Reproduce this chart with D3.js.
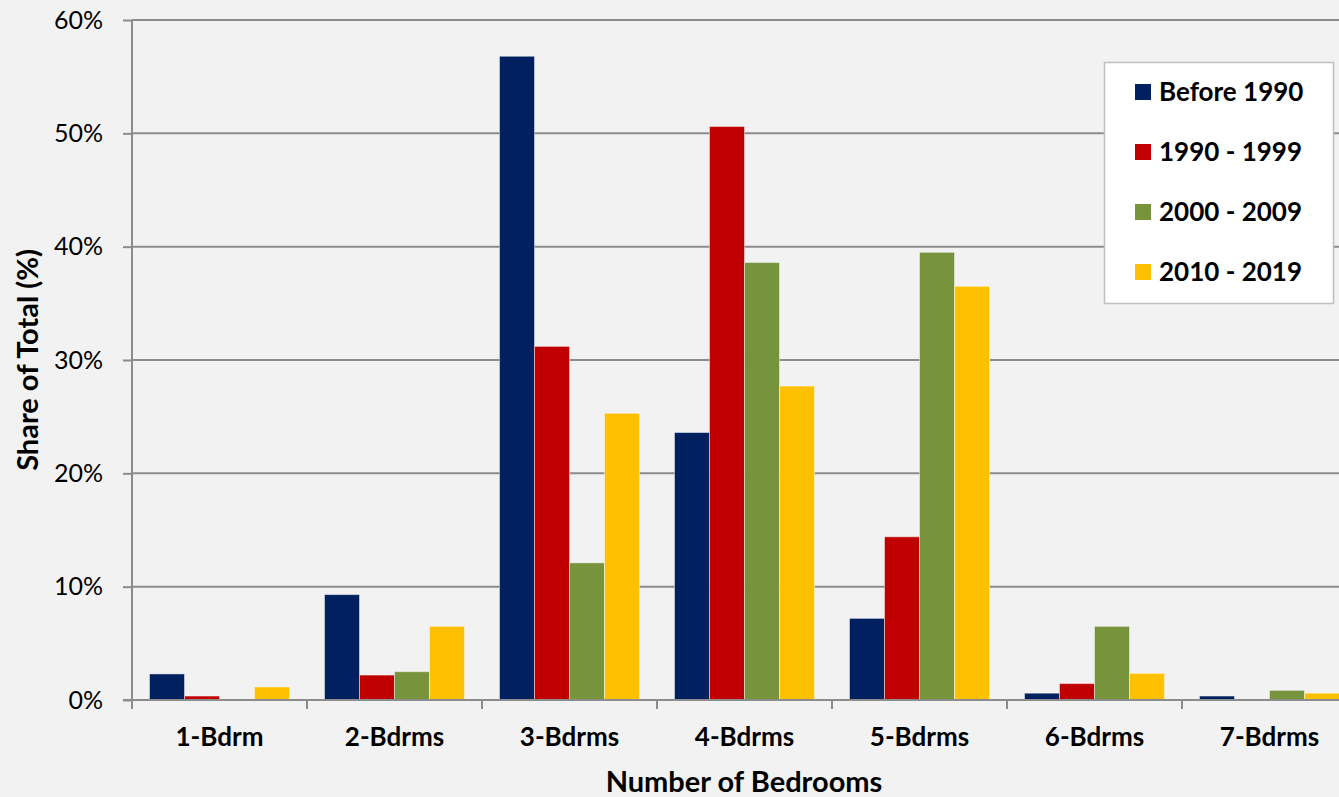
<!DOCTYPE html>
<html><head><meta charset="utf-8">
<script src="https://cdn.jsdelivr.net/npm/d3@7"></script>
<style>
html,body{margin:0;padding:0;background:#f2f2f2;overflow:hidden;}
svg{display:block;font-family:Lato,"Open Sans",sans-serif;}
</style></head>
<body><svg id="c" width="1339" height="797"></svg>
<script>
const categories = ["1-Bdrm","2-Bdrms","3-Bdrms","4-Bdrms","5-Bdrms","6-Bdrms","7-Bdrms"];
const seriesNames = ["Before 1990","1990 - 1999","2000 - 2009","2010 - 2019"];
const before1990 = [2.3, 9.3, 56.8, 23.6, 7.2, 0.6, 0.35];
const s1990_1999 = [0.35, 2.2, 31.2, 50.6, 14.4, 1.45, 0];
const s2000_2009 = [0, 2.5, 12.1, 38.6, 39.5, 6.5, 0.85];
const s2010_2019 = [1.15, 6.5, 25.3, 27.7, 36.5, 2.35, 0.6];
const colors = ["#002060","#C00000","#77933C","#FFC000"];
const yTicks = [0,10,20,30,40,50,60];

(function(){
const seriesValues = [before1990, s1990_1999, s2000_2009, s2010_2019];
const svg = d3.select("#c");
const pLeft = 132, pTop = 20, pBottom = 700, bandW = 175;
const pRight = pLeft + bandW * categories.length;

const x = d3.scaleBand().domain(categories).range([pLeft, pRight]).padding(0);
const xs = d3.scaleBand().domain(seriesNames).range([17.5, bandW - 17.5]).padding(0);
const y = d3.scaleLinear().domain([0, 60]).range([pBottom, pTop]);

// gridlines
svg.append("g").selectAll("line").data(yTicks.filter(d=>d>0)).join("line")
  .attr("x1", pLeft).attr("x2", pRight).attr("y1", d=>y(d)).attr("y2", d=>y(d))
  .attr("stroke", "#8c8c8c").attr("stroke-width", 2);

// bars
const g = svg.append("g");
seriesNames.forEach((s, si) => {
  g.append("g").selectAll("rect").data(categories.map((c,i)=>({c, v: seriesValues[si][i]})).filter(d=>d.v>0)).join("rect")
    .attr("x", d => x(d.c) + xs(s))
    .attr("width", xs.bandwidth())
    .attr("y", d => y(d.v))
    .attr("height", d => pBottom - y(d.v))
    .attr("fill", colors[si])
    .attr("stroke", "rgba(255,255,255,0.45)").attr("stroke-width", 1);
});

// y axis
const yAxis = svg.append("g").attr("transform", `translate(${pLeft},0)`)
  .call(d3.axisLeft(y).tickValues(yTicks).tickFormat(d=>d+"%").tickSize(9).tickPadding(20));
yAxis.select(".domain").attr("stroke", "#8c8c8c").attr("stroke-width", 2).attr("d", `M0,${pTop}V${pBottom}`);
yAxis.selectAll(".tick line").attr("stroke", "#8c8c8c").attr("stroke-width", 2);
yAxis.selectAll(".tick text").attr("font-size", 25).attr("fill", "#000").attr("font-family", "Lato,'Open Sans',sans-serif");

// x axis
const xAxis = svg.append("g").attr("transform", `translate(0,${pBottom})`)
  .call(d3.axisBottom(x).tickSize(0));
xAxis.select(".domain").remove();
svg.append("line").attr("x1", pLeft - 9).attr("x2", pRight).attr("y1", pBottom).attr("y2", pBottom)
  .attr("stroke", "#8c8c8c").attr("stroke-width", 2);
svg.append("g").selectAll("line").data(d3.range(categories.length + 1)).join("line")
  .attr("x1", i => pLeft + i*bandW).attr("x2", i => pLeft + i*bandW)
  .attr("y1", pBottom).attr("y2", pBottom + 9)
  .attr("stroke", "#8c8c8c").attr("stroke-width", 2);
xAxis.selectAll(".tick text").attr("y", 46).attr("dy", null).attr("font-size", 26).attr("font-weight", "bold").attr("fill", "#000")
  .attr("font-family", "Lato,'Open Sans',sans-serif");

// axis titles
svg.append("text").attr("x", 744).attr("y", 792).attr("text-anchor", "middle")
  .attr("font-size", 29).attr("font-weight", "bold").text("Number of Bedrooms");
svg.append("text").attr("transform", "translate(38,360) rotate(-90)").attr("text-anchor", "middle")
  .attr("font-size", 29).attr("font-weight", "bold").text("Share of Total (%)");

// legend
const lg = svg.append("g");
lg.append("rect").attr("x", 1104.5).attr("y", 62.5).attr("width", 229).attr("height", 241)
  .attr("fill", "#fff").attr("stroke", "#bfbfbf").attr("stroke-width", 1.5);
seriesNames.forEach((s, i) => {
  const cy = 92 + i * 60;
  lg.append("rect").attr("x", 1135).attr("y", cy - 8).attr("width", 16).attr("height", 16).attr("fill", colors[i]);
  lg.append("text").attr("x", 1159).attr("y", cy).attr("dy", "0.36em")
    .attr("font-size", 26).attr("font-weight", "bold").text(s);
});
})();
</script></body></html>
